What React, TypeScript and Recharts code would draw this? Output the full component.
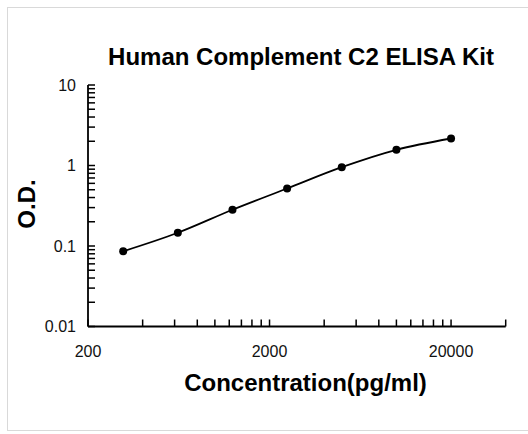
import React from "react";
import { LineChart, Line, XAxis, YAxis } from "recharts";

const concentrations = [312.5, 625, 1250, 2500, 5000, 10000, 20000];
const odValues = [0.086, 0.146, 0.282, 0.518, 0.953, 1.567, 2.165];

const xTicks = [
  200, 400, 600, 800, 1000, 1200, 1400, 1600, 1800,
  2000, 4000, 6000, 8000, 10000, 12000, 14000, 16000, 18000,
  20000, 40000,
];
const xTickLabels = [200, 2000, 20000];

const yTicks = [
  0.01, 0.02, 0.03, 0.04, 0.05, 0.06, 0.07, 0.08, 0.09,
  0.1, 0.2, 0.3, 0.4, 0.5, 0.6, 0.7, 0.8, 0.9,
  1, 2, 3, 4, 5, 6, 7, 8, 9, 10,
];
const yTickLabels = [0.01, 0.1, 1, 10];

const data = concentrations.map((c, i) => ({ conc: c, od: odValues[i] }));

const FONT = "'Liberation Sans', Arial, sans-serif";

export default function App() {
  return (
    <div
      style={{
        position: "absolute",
        left: 7,
        top: 7,
        width: 520,
        height: 422,
        borderTop: "1px solid #d9d9d9",
        borderLeft: "1px solid #d9d9d9",
        borderBottom: "1px solid #d9d9d9",
        background: "#fff",
      }}
    >
      <LineChart
        width={520}
        height={422}
        data={data}
        margin={{ top: 77, right: 22.3, bottom: 73.5, left: 0 }}
      >
        <XAxis
          dataKey="conc"
          type="number"
          scale="log"
          domain={[200, 40000]}
          allowDataOverflow
          ticks={xTicks}
          interval={0}
          height={30}
          tickSize={-7}
          tickMargin={26.5}
          tickFormatter={(v: number) => (xTickLabels.includes(v) ? String(v) : "")}
          tick={{ fill: "#111", fontSize: 16, fontFamily: FONT }}
          axisLine={{ stroke: "#000", strokeWidth: 1.8 }}
          tickLine={{ stroke: "#000", strokeWidth: 1.5 }}
        />
        <YAxis
          dataKey="od"
          type="number"
          scale="log"
          domain={[0.01, 10]}
          allowDataOverflow
          ticks={yTicks}
          interval={0}
          width={80}
          tickSize={-7}
          tickMargin={19}
          tickFormatter={(v: number) => (yTickLabels.includes(v) ? String(v) : "")}
          tick={{ fill: "#111", fontSize: 16, fontFamily: FONT }}
          axisLine={{ stroke: "#000", strokeWidth: 1.8 }}
          tickLine={{ stroke: "#000", strokeWidth: 1.5 }}
        />
        <Line
          type="monotone"
          dataKey="od"
          stroke="#000"
          strokeWidth={1.8}
          dot={{ r: 4, fill: "#000", stroke: "#000", strokeWidth: 0 }}
          activeDot={false}
          isAnimationActive={false}
        />
        <text
          x={293}
          y={57}
          textAnchor="middle"
          fontFamily={FONT}
          fontWeight="bold"
          fontSize={24}
          fill="#000"
        >
          Human Complement C2 ELISA Kit
        </text>
        <text
          x={297.5}
          y={382.7}
          textAnchor="middle"
          fontFamily={FONT}
          fontWeight="bold"
          fontSize={24}
          fill="#000"
        >
          Concentration(pg/ml)
        </text>
        <text
          x={27}
          y={196}
          textAnchor="middle"
          transform="rotate(-90 27 196)"
          fontFamily={FONT}
          fontWeight="bold"
          fontSize={24}
          fill="#000"
        >
          O.D.
        </text>
      </LineChart>
    </div>
  );
}
